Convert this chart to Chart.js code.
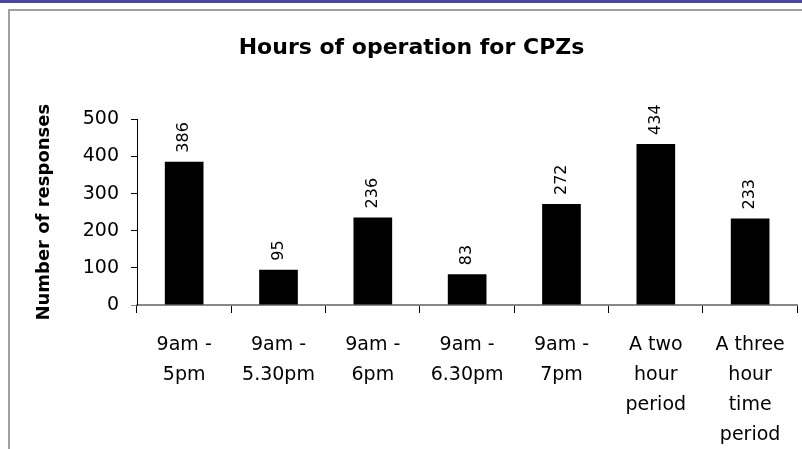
<!DOCTYPE html>
<html>
<head>
<meta charset="utf-8">
<script src="https://cdn.jsdelivr.net/npm/chart.js"></script>
<style>
  body { margin: 0; background: #fff; }
  #wrap { position: relative; width: 802px; height: 449px; overflow: hidden; }
  #topline { position: absolute; left: 0; top: 0; width: 802px; height: 3px; background: #4848a8; }
  #frame { position: absolute; left: 8px; top: 9px; width: 800px; height: 450px;
           border-left: 2px solid #a0a0a0; border-top: 2px solid #a0a0a0; }
  canvas { position: absolute; left: 0; top: 0; }
</style>
</head>
<body>
<div id="wrap">
  <div id="topline"></div>
  <div id="frame"></div>
  <canvas id="chart" width="802" height="449"></canvas>
</div>
<script>
// données
const categories = [
  ["9am -", "5pm"],
  ["9am -", "5.30pm"],
  ["9am -", "6pm"],
  ["9am -", "6.30pm"],
  ["9am -", "7pm"],
  ["A two", "hour", "period"],
  ["A three", "hour", "time", "period"]
];
const responses = [386, 95, 236, 83, 272, 434, 233];
const yTicks = [0, 100, 200, 300, 400, 500];

const FONT = "'DejaVu Sans', sans-serif";

// valeurs écrites verticalement au-dessus des barres
const barLabels = {
  id: "barLabels",
  afterDatasetsDraw(chart) {
    const ctx = chart.ctx;
    const meta = chart.getDatasetMeta(0);
    ctx.save();
    ctx.font = "16px " + FONT;
    ctx.fillStyle = "#000";
    ctx.textAlign = "left";
    ctx.textBaseline = "middle";
    meta.data.forEach((bar, i) => {
      ctx.save();
      ctx.translate(bar.x, bar.y - 9);
      ctx.rotate(-Math.PI / 2);
      ctx.fillText(String(responses[i]), 0, 0);
      ctx.restore();
    });
    ctx.restore();
  }
};

new Chart(document.getElementById("chart"), {
  type: "bar",
  data: {
    labels: categories,
    datasets: [{
      data: responses,
      backgroundColor: "#000",
      borderWidth: 0,
      barPercentage: 0.41,
      categoryPercentage: 1
    }]
  },
  options: {
    responsive: false,
    animation: false,
    layout: { padding: { left: 24, right: 3, top: 0, bottom: 0 } },
    plugins: {
      legend: { display: false },
      tooltip: { enabled: false },
      title: {
        display: true,
        text: "Hours of operation for CPZs",
        color: "#000",
        font: { family: FONT, size: 22, weight: "bold" },
        padding: { top: 35, bottom: 58 }
      }
    },
    scales: {
      x: {
        afterFit: s => { s.height = 144; },
        grid: { display: true, drawOnChartArea: false, offset: true, tickLength: 8, color: "#000" },
        border: { display: true, color: "#888", width: 2 },
        ticks: {
          color: "#000",
          font: { family: FONT, size: 19, lineHeight: 1.58 },
          padding: 17,
          maxRotation: 0,
          autoSkip: false
        }
      },
      y: {
        min: 0,
        max: 500,
        afterFit: s => { s.width = 137 - 24; },
        afterBuildTicks: s => { s.ticks = yTicks.map(v => ({ value: v })); },
        grid: {
          display: true,
          drawOnChartArea: false,
          tickLength: 6,
          color: c => (c.tick && c.tick.value === 0 ? "#888" : "#000")
        },
        border: { display: true, color: "#000", width: 1 },
        ticks: {
          color: "#000",
          font: { family: FONT, size: 19 },
          padding: 12
        },
        title: {
          display: true,
          text: "Number of responses",
          color: "#000",
          font: { family: FONT, size: 18, weight: "bold" },
          padding: { top: 10, bottom: 0 }
        }
      }
    }
  },
  plugins: [barLabels]
});
</script>
</body>
</html>
